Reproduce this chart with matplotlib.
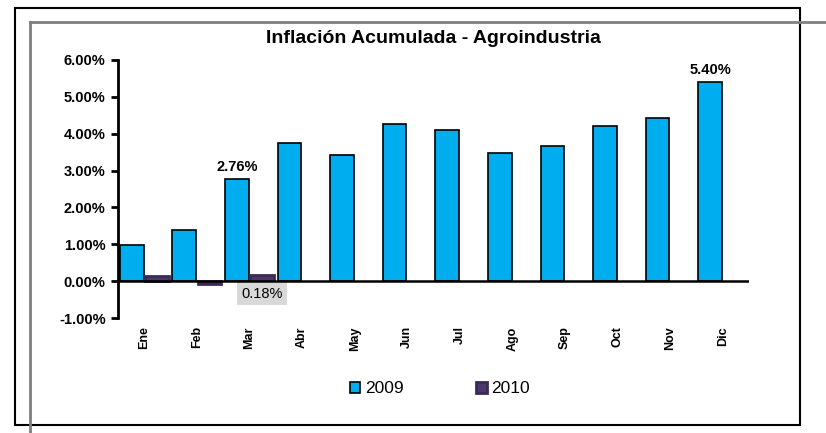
import matplotlib
matplotlib.use("Agg")
import matplotlib.pyplot as plt
from matplotlib.lines import Line2D
from matplotlib.patches import Rectangle
import numpy as np

plt.rcParams['font.family'] = ['Liberation Sans', 'DejaVu Sans']

months = ["Ene", "Feb", "Mar", "Abr", "May", "Jun", "Jul", "Ago", "Sep", "Oct", "Nov", "Dic"]
v2009 = [0.98, 1.40, 2.76, 3.75, 3.42, 4.27, 4.10, 3.48, 3.67, 4.21, 4.43, 5.40]
v2010 = [0.13, -0.09, 0.18]
yticks = [-1, 0, 1, 2, 3, 4, 5, 6]

fig = plt.figure(figsize=(8.26, 4.33), dpi=100)
W, H = 826, 433
ax = fig.add_axes([118 / W, 1 - 318 / H, (749 - 118) / W, (318 - 60) / H])

x = np.arange(len(months))
bw = 0.45
ax.bar(x - 0.24, v2009, width=bw, color="#00AEEF", edgecolor="black", linewidth=1.2, label="2009", zorder=3)
ax.bar(x[:len(v2010)] + 0.24, v2010, width=bw, color="#4A3868", edgecolor="#3a2a55", linewidth=2.0, label="2010", zorder=3)

ax.set_xlim(-0.5, len(months) - 0.5)
ax.set_ylim(-1, 6)
ax.set_yticks(yticks)
ax.set_yticklabels([f"{t:.2f}%" for t in yticks], fontsize=10.5, fontweight="bold")
ax.axhline(0, color="black", linewidth=1.8, zorder=4)
for s in ["top", "right", "bottom"]:
    ax.spines[s].set_visible(False)
ax.spines["left"].set_linewidth(2)
ax.tick_params(axis="y", direction="out", length=5, width=2, pad=4)
ax.set_xticks(x)
ax.set_xticklabels(months, rotation=90, fontsize=9, fontweight="bold")
ax.tick_params(axis="x", length=0, pad=6)

ax.set_title("Inflación Acumulada - Agroindustria", fontsize=14, fontweight="bold", pad=12)

ax.annotate(f"{v2009[2]:.2f}%", (x[2] - 0.24, v2009[2]), xytext=(0, 4), textcoords="offset points",
            ha="center", va="bottom", fontsize=10.5, fontweight="bold")
ax.annotate(f"{v2009[11]:.2f}%", (x[11] - 0.24, v2009[11]), xytext=(0, 4), textcoords="offset points",
            ha="center", va="bottom", fontsize=10.5, fontweight="bold")
ax.annotate(f"{v2010[2]:.2f}%", (x[2] + 0.24, 0), xytext=(0, -4), textcoords="offset points",
            ha="center", va="top", fontsize=10.5,
            bbox=dict(boxstyle="square,pad=0.3", facecolor="#d9d9d9", edgecolor="none"))

ax.legend(loc="upper center", bbox_to_anchor=(0.51, -0.185), ncol=2, frameon=False,
          fontsize=12.5, handlelength=0.6, handleheight=0.6, columnspacing=4.2, handletextpad=0.25)

# frame lines
fig.add_artist(Rectangle((15 / W, 1 - 425 / H), (800 - 15) / W, (425 - 8) / H,
                         transform=fig.transFigure, fill=False, edgecolor="black", linewidth=1.5))
fig.add_artist(Line2D([30 / W, 1], [1 - 22 / H, 1 - 22 / H], transform=fig.transFigure,
                      color="#7f7f7f", linewidth=2))
fig.add_artist(Line2D([30 / W, 30 / W], [1 - 22 / H, 0], transform=fig.transFigure,
                      color="#7f7f7f", linewidth=2))

fig.savefig("out.png", dpi=100)
